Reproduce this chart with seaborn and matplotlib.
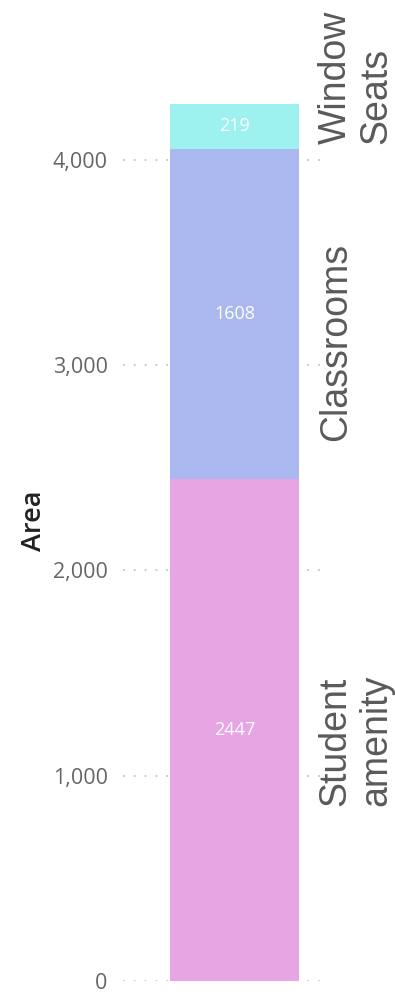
"""
Single stacked bar of area by space type, with labels on the right
"""
import pandas as pd
import seaborn as sns
import matplotlib.pyplot as plt
import numpy as np

categories = ['Student\namenity', 'Classrooms', 'Window\nSeats']
values = [2447, 1608, 219]
colors = ['#E6A6E3', '#AAB8EF', '#9DF2EF']
y_ticks = [0, 1000, 2000, 3000, 4000]

sns.set_style('white')
plt.rcParams['font.family'] = ['Open Sans', 'DejaVu Sans']

tops = np.cumsum(values)
bottoms = tops - np.array(values)
df = pd.DataFrame({'group': ['all'] * len(values), 'category': categories,
                   'top': tops, 'bottom': bottoms, 'value': values})

fig = plt.figure(figsize=(3.95, 9.94), dpi=100)
ax = fig.add_axes([123 / 395, 13 / 994, 204 / 395, 882.6 / 994])

# stacked look: tallest (cumulative) bar first, shorter ones drawn over it
for i in reversed(range(len(df))):
    sns.barplot(data=df.iloc[[i]], x='group', y='top', color=colors[i],
                saturation=1, width=0.8, linewidth=0, ax=ax, zorder=2)

# value labels in the middle of each segment
for _, row in df.iterrows():
    ax.text(0, (row['top'] + row['bottom']) / 2, str(row['value']),
            ha='center', va='center', color='white', fontsize=13, zorder=3)

# category labels on the right, shifted a bit like power bi does
offsets = [-10, -28, 49]
for (_, row), off in zip(df.iterrows(), offsets):
    ax.annotate(row['category'], xy=(0.4, (row['top'] + row['bottom']) / 2),
                xytext=(13.5, off * 0.72), textcoords='offset points',
                rotation=90, ha='left', va='center', multialignment='left',
                fontsize=27, color='#5a5a5a', linespacing=1.15,
                annotation_clip=False, family=['Liberation Sans', 'DejaVu Sans'])

ax.set_xlim(-0.4 - 47 / 161.25, 0.4 + 28 / 161.25)
ax.set_ylim(0, 4300)
ax.set_yticks(y_ticks)
ax.set_yticklabels([f'{t:,}' for t in y_ticks])
ax.tick_params(axis='y', length=0, pad=11, labelsize=15.5, labelcolor='#666666')
ax.set_xticks([])
ax.set_xlabel('')
ax.set_ylabel('Area', fontsize=19.5, fontweight='semibold', color='#222222')
ax.yaxis.set_label_coords(-0.37, 0.522)
ax.grid(axis='y', color='#c4c4c4', linestyle=(0, (1, 5)), linewidth=1.3, zorder=0)
ax.set_axisbelow(True)
sns.despine(ax=ax, left=True, bottom=True)

plt.savefig('out.png', dpi=100)
